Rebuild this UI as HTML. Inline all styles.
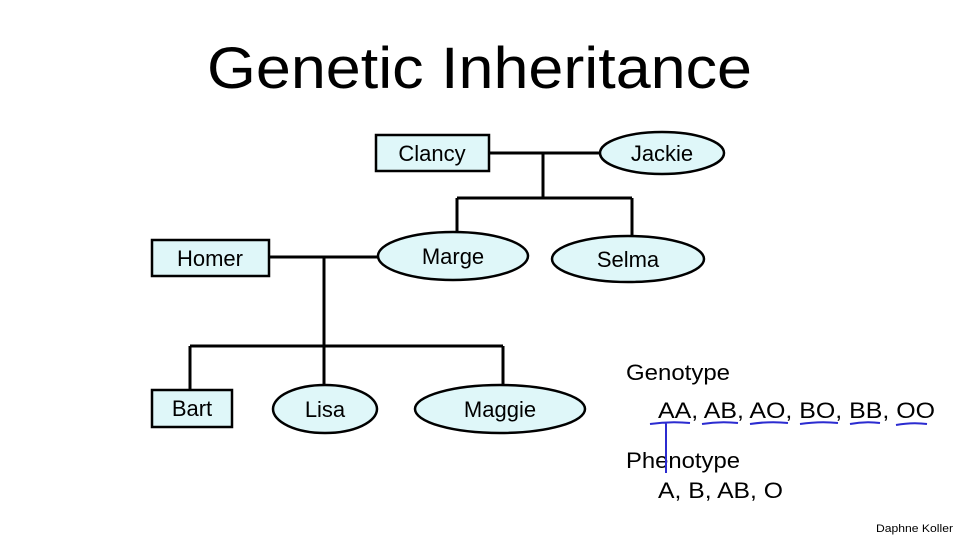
<!DOCTYPE html>
<html><head><style>
html,body{margin:0;padding:0;background:#fff;}
svg{display:block;}
text{font-family:"Liberation Sans",sans-serif;fill:#000;}
</style></head><body>
<svg width="960" height="540" viewBox="0 0 960 540">
<text x="207" y="88" font-size="58" textLength="545" lengthAdjust="spacingAndGlyphs">Genetic Inheritance</text>
<g stroke="#000" stroke-width="3" fill="none">
<path d="M489 153H600M543 153V198M457 198H632M457 198V243M632 198V238"/>
<path d="M269 257H378M324 257V346M190 346H503M190 346V390M324 346V386M503 346V386"/>
</g>
<g stroke="#000" stroke-width="2.5" fill="#dff7f9">
<rect x="376" y="135" width="113" height="36"/>
<ellipse cx="662" cy="153" rx="62" ry="21"/>
<ellipse cx="453" cy="256" rx="75" ry="24"/>
<ellipse cx="628" cy="259" rx="76" ry="23"/>
<rect x="152" y="240" width="117" height="36"/>
<rect x="152" y="390" width="80" height="37"/>
<ellipse cx="325" cy="409" rx="52" ry="24"/>
<ellipse cx="500" cy="409" rx="85" ry="24"/>
</g>
<g font-size="22" text-anchor="middle">
<text x="432" y="161">Clancy</text>
<text x="662" y="161">Jackie</text>
<text x="453" y="264">Marge</text>
<text x="628" y="267">Selma</text>
<text x="210" y="266">Homer</text>
<text x="192" y="416">Bart</text>
<text x="325" y="417">Lisa</text>
<text x="500" y="417">Maggie</text>
</g>
<g font-size="22">
<text x="626" y="380" textLength="104" lengthAdjust="spacingAndGlyphs">Genotype</text>
<text x="658" y="418" textLength="277" lengthAdjust="spacingAndGlyphs">AA, AB, AO, BO, BB, OO</text>
<text x="626" y="468" textLength="114" lengthAdjust="spacingAndGlyphs">Phenotype</text>
<text x="658" y="498" textLength="125" lengthAdjust="spacingAndGlyphs">A, B, AB, O</text>
</g>
<g stroke="#2b2bd0" stroke-width="2" fill="none">
<path d="M650 424Q670 421 690 423M702 424Q720 421 738 423M750 424Q770 421 788 423M800 424Q820 421 838 423M850 424Q865 421 880 423M896 425Q912 422 927 424M666 423V473"/>
</g>
<text x="876" y="532" font-size="11" textLength="77" lengthAdjust="spacingAndGlyphs">Daphne Koller</text>
</svg>
</body></html>
